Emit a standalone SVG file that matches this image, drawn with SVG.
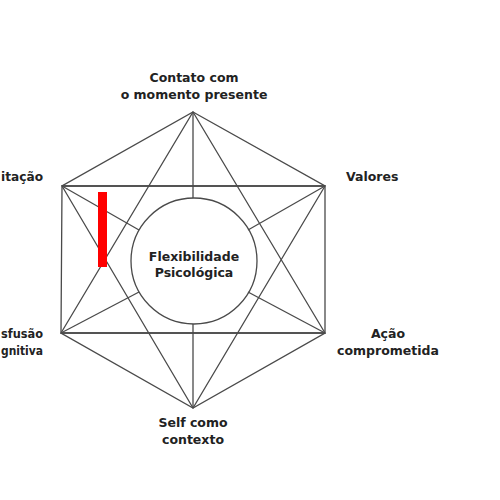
<svg xmlns="http://www.w3.org/2000/svg" width="500" height="500" viewBox="0 0 500 500">
<style>
.l{stroke:#4a4a4a;stroke-width:1.3;fill:none}
.t{font-family:"DejaVu Sans","Liberation Sans",sans-serif;font-weight:bold;font-size:12.5px;fill:#222}
.m{text-anchor:middle}
.e{text-anchor:end}
</style>
<rect width="500" height="500" fill="#fff"/>
<g id="connectors">
<polygon class="l" points="193,112 325,186 325,333 193,408 61,333 62,186"/>
<line class="l" x1="62" y1="186" x2="325" y2="186"/>
<line class="l" x1="61" y1="333" x2="325" y2="333"/>
<polygon class="l" points="193,112 325,333 61,333"/>
<polygon class="l" points="193,408 62,186 325,186"/>
<line class="l" x1="193" y1="112" x2="193" y2="198"/>
<line class="l" x1="193" y1="408" x2="193" y2="324"/>
<line class="l" x1="62" y1="186" x2="139" y2="230"/>
<line class="l" x1="325" y1="333" x2="248" y2="292"/>
<line class="l" x1="325" y1="186" x2="248" y2="230"/>
<line class="l" x1="61" y1="333" x2="139" y2="292"/>
</g>
<g id="center">
<circle cx="194" cy="261" r="63" fill="#fff" class="l"/>
<text class="t m" x="194" y="261">Flexibilidade</text>
<text class="t m" x="194" y="277">Psicológica</text>
</g>
<g id="contato"><text class="t m" x="194" y="82">Contato com</text><text class="t m" x="194" y="99">o momento presente</text></g>
<g id="valores"><text class="t" x="346" y="181">Valores</text></g>
<g id="acao"><text class="t m" x="388" y="338">Ação</text><text class="t m" x="388" y="355">comprometida</text></g>
<g id="self"><text class="t m" x="193" y="427">Self como</text><text class="t m" x="193" y="444">contexto</text></g>
<g id="aceitacao"><text class="t" x="1" y="181" textLength="42" lengthAdjust="spacingAndGlyphs">itação</text></g>
<g id="desfusao"><text class="t" x="1" y="338" textLength="42" lengthAdjust="spacingAndGlyphs">sfusão</text><text class="t" x="1" y="355" textLength="42" lengthAdjust="spacingAndGlyphs">gnitiva</text></g>
<rect x="98" y="192" width="9" height="75" fill="#f00"/>
</svg>
